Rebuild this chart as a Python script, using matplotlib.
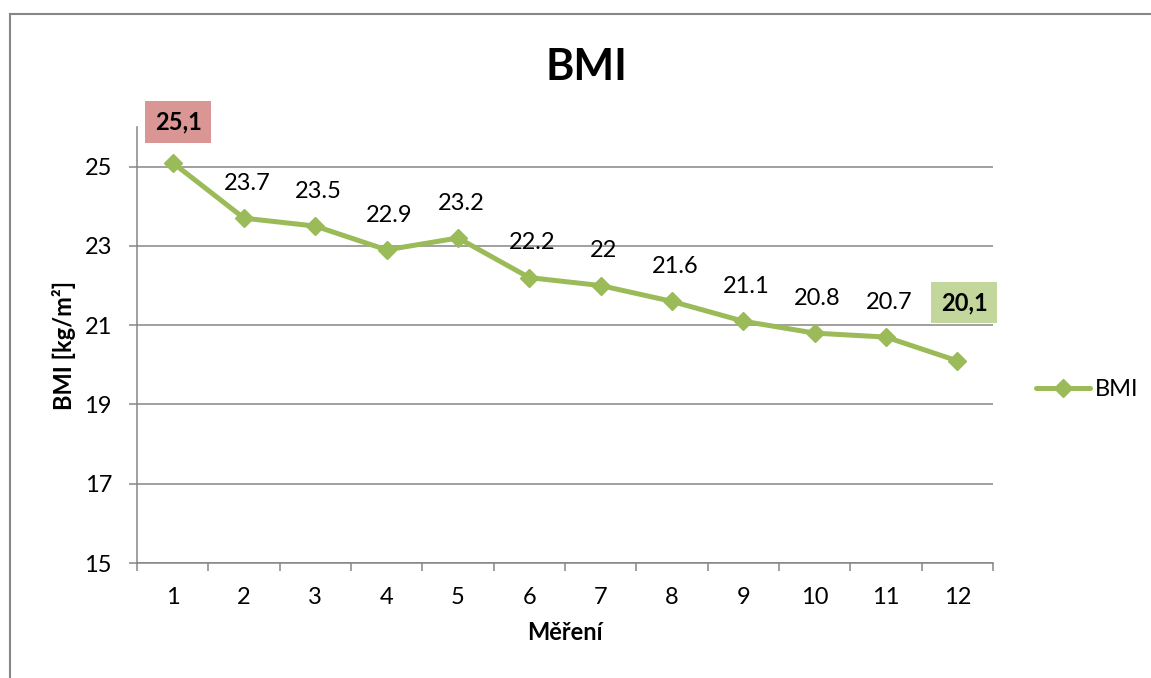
import matplotlib.pyplot as plt
from matplotlib.lines import Line2D

plt.rcParams['font.family'] = ['Lato', 'DejaVu Sans']

# measurements
mereni = [1, 2, 3, 4, 5, 6, 7, 8, 9, 10, 11, 12]
bmi = [25.1, 23.7, 23.5, 22.9, 23.2, 22.2, 22.0, 21.6, 21.1, 20.8, 20.7, 20.1]
popisky = ['25,1', '23.7', '23.5', '22.9', '23.2', '22.2', '22', '21.6',
           '21.1', '20.8', '20.7', '20,1']

green = '#9bbb59'
grey = '#868686'
fs = 17

fig = plt.figure(figsize=(11.51, 6.78), dpi=100)
ax = fig.add_axes([137 / 1151, 1 - 563 / 678, (993 - 137) / 1151, (563 - 127) / 678])

ax.plot(mereni, bmi, color=green, lw=3.6, marker='D', ms=9.5,
        mec=green, mfc=green, label='BMI', solid_capstyle='round')

# value labels, first and last in coloured boxes
for i, (x, y, t) in enumerate(zip(mereni, bmi, popisky)):
    if i == 0:
        ax.annotate(t, (x, y), xytext=(4, 29), textcoords='offset points',
                    ha='center', va='center', fontsize=fs, fontweight='bold',
                    bbox=dict(boxstyle='square,pad=0.4', fc='#d99694', ec='none'))
    elif i == len(mereni) - 1:
        ax.annotate(t, (x, y), xytext=(5, 42), textcoords='offset points',
                    ha='center', va='center', fontsize=fs, fontweight='bold',
                    bbox=dict(boxstyle='square,pad=0.4', fc='#c3d69b', ec='none'))
    else:
        ax.annotate(t, (x, y), xytext=(2, 25), textcoords='offset points',
                    ha='center', va='center', fontsize=fs)

ax.set_xlim(0.5, 12.5)
ax.set_ylim(15, 26)
ax.set_yticks([15, 17, 19, 21, 23, 25])
ax.set_xticks(mereni)
ax.set_xticks([m + 0.5 for m in [0] + mereni], minor=True)
ax.grid(axis='y', color=grey, lw=1.1)
ax.set_axisbelow(True)

for s in ['top', 'right']:
    ax.spines[s].set_visible(False)
for s in ['left', 'bottom']:
    ax.spines[s].set_color(grey)
    ax.spines[s].set_linewidth(1.1)

ax.tick_params(axis='y', length=6, width=1.1, color=grey, pad=12, labelsize=fs)
ax.tick_params(axis='x', which='major', length=0, pad=17, labelsize=fs)
ax.tick_params(axis='x', which='minor', length=6, width=1.1, color=grey)

ax.set_title('BMI', fontsize=31, fontweight='bold', pad=34, x=0.525)
ax.set_xlabel('Měření', fontsize=17, fontweight='bold', labelpad=10)
ax.set_ylabel('BMI [kg/m²]', fontsize=17, fontweight='bold', labelpad=6)

ax.legend(loc='center left', bbox_to_anchor=(1.025, 0.397), frameon=False,
          fontsize=fs, handlelength=2.3, handletextpad=0.2)

# outer chart frame
fig.add_artist(Line2D([10 / 1151, 1], [1 - 14 / 678] * 2, color=grey, lw=1.5))
fig.add_artist(Line2D([10 / 1151] * 2, [0, 1 - 14 / 678], color=grey, lw=1.5))

fig.savefig('out.png', dpi=100)
